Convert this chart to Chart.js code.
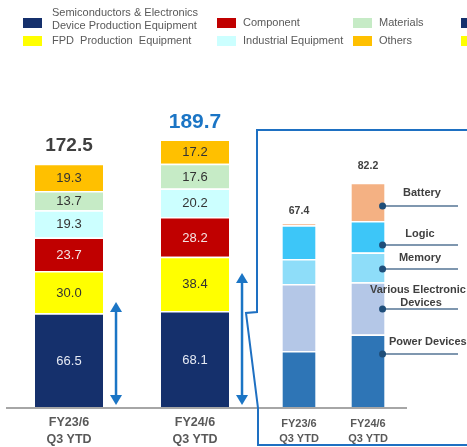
<!DOCTYPE html>
<html><head><meta charset="utf-8">
<script src="https://cdn.jsdelivr.net/npm/chart.js@4"></script>
<style>
html,body{margin:0;padding:0;background:#fff;}
#wrap{position:relative;width:467px;height:447px;overflow:hidden;}
canvas{position:absolute;left:0;top:0;}
</style></head><body>
<div id="wrap"><canvas id="c1" width="467" height="447"></canvas><canvas id="c2" width="467" height="447"></canvas></div>
<script>
// ---- data: left chart (sales by segment) ----
const categories = [["FY23/6","Q3 YTD"],["FY24/6","Q3 YTD"]];
const segmentNames = ["Semiconductors & Electronics Device Production Equipment","FPD Production Equipment","Component","Industrial Equipment","Materials","Others"];
const semiconductors = [66.5, 68.1];
const fpd = [30.0, 38.4];
const component = [23.7, 28.2];
const industrial = [19.3, 20.2];
const materials = [13.7, 17.6];
const others = [19.3, 17.2];
const totals = [172.5, 189.7];
const arrowTops = [74.5, 95.0];

// ---- data: right chart (semiconductor breakdown) ----
const deviceNames = ["Power Devices","Various Electronic Devices","Memory","Logic","Battery"];
const powerDevices = [20.5, 26.6];
const variousDevices = [24.6, 19.1];
const memory = [9.2, 10.9];
const logic = [12.3, 11.6];
const battery = [0.8, 14.0];
const deviceTotals = [67.4, 82.2];
const calloutLevels = [19.4, 35.9, 50.6, 59.4, 73.7]; // y-values of callout leaders (Power..Battery)

// ---- legend text ----
const legendText = [["Semiconductors & Electronics","Device Production Equipment"],["FPD  Production  Equipment"],["Component"],["Industrial Equipment"],["Materials"],["Others"]];

const FONT = '"Liberation Sans", Arial, Helvetica, sans-serif';
const segColors = ['#15306C','#FFFF00','#C00000','#CCFFFF','#C6EBC6','#FFC000'];
const segTextColors = ['#E6EAF4','#333333','#F4E4E4','#333333','#333333','#333333'];
const devColors = ['#2E75B6','#B4C7E7','#8EDDF9','#3DC6F8','#F4B183'];

function drawArrow(ctx, x, yTop, yBot) {
  const head = 10, hw = 6;
  ctx.save();
  ctx.strokeStyle = '#1B75C5'; ctx.fillStyle = '#1B75C5'; ctx.lineWidth = 2.5;
  ctx.beginPath(); ctx.moveTo(x, yTop + head - 1); ctx.lineTo(x, yBot - head + 1); ctx.stroke();
  ctx.beginPath(); ctx.moveTo(x, yTop); ctx.lineTo(x - hw, yTop + head); ctx.lineTo(x + hw, yTop + head); ctx.closePath(); ctx.fill();
  ctx.beginPath(); ctx.moveTo(x, yBot); ctx.lineTo(x - hw, yBot - head); ctx.lineTo(x + hw, yBot - head); ctx.closePath(); ctx.fill();
  ctx.restore();
}

const deco1 = {
  id: 'deco1',
  beforeDatasetsDraw(chart) {
    const ctx = chart.ctx, ys = chart.scales.y;
    const y0 = ys.getPixelForValue(0) + 1;
    ctx.save();
    ctx.strokeStyle = '#A6A6A6'; ctx.lineWidth = 2;
    ctx.beginPath(); ctx.moveTo(6, y0); ctx.lineTo(407, y0); ctx.stroke();
    ctx.restore();
  },
  afterDatasetsDraw(chart) {
    const ctx = chart.ctx, ys = chart.scales.y;
    ctx.save();
    ctx.textAlign = 'center'; ctx.textBaseline = 'middle';
    chart.data.datasets.forEach((ds, di) => {
      const meta = chart.getDatasetMeta(di);
      meta.data.forEach((bar, i) => {
        const p = bar.getProps(['x','y','base'], true);
        ctx.fillStyle = segTextColors[di];
        ctx.font = '13px ' + FONT;
        ctx.fillText(ds.data[i].toFixed(1), p.x, (p.y + p.base) / 2 + 1);
      });
    });
    // totals
    const lastMeta = chart.getDatasetMeta(chart.data.datasets.length - 1);
    lastMeta.data.forEach((bar, i) => {
      const p = bar.getProps(['x','y','base','width'], true);
      if (i === 0) { ctx.font = 'bold 19px ' + FONT; ctx.fillStyle = '#404040'; ctx.fillText(totals[i].toFixed(1), p.x, p.y - 18); }
      else { ctx.font = 'bold 21px ' + FONT; ctx.fillStyle = '#1B75C5'; ctx.fillText(totals[i].toFixed(1), p.x, p.y - 17); }
      // arrows
      drawArrow(ctx, p.x + p.width / 2 + 13, ys.getPixelForValue(arrowTops[i]), ys.getPixelForValue(1.4));
    });
    ctx.restore();
  },
  afterDraw(chart) {
    const ctx = chart.ctx;
    ctx.save();
    // zoom frame
    ctx.strokeStyle = '#1E70C2'; ctx.lineWidth = 2;
    ctx.beginPath();
    ctx.moveTo(470, 130); ctx.lineTo(257, 130); ctx.lineTo(257, 312); ctx.lineTo(246, 313);
    ctx.lineTo(258, 408); ctx.lineTo(258, 445); ctx.lineTo(470, 445);
    ctx.stroke();
    // legend
    const cols = [
      {bx: 23, tx: 52, items: [0, 1], text: true},
      {bx: 217, tx: 243, items: [2, 3], text: true},
      {bx: 353, tx: 379, items: [4, 5], text: true},
      {bx: 461, tx: 0, items: [0, 1], text: false}
    ];
    const rowTop = [18, 36];
    ctx.font = '11px ' + FONT; ctx.textBaseline = 'middle'; ctx.textAlign = 'left';
    cols.forEach(c => {
      c.items.forEach((it, r) => {
        ctx.fillStyle = segColors[it];
        ctx.fillRect(c.bx, rowTop[r], 19, 10);
        if (!c.text) return;
        ctx.fillStyle = '#595959';
        const lines = legendText[it];
        if (lines.length === 2) { ctx.fillText(lines[0], c.tx, 13); ctx.fillText(lines[1], c.tx, 26); }
        else ctx.fillText(lines[0], c.tx, rowTop[r] + 5);
      });
    });
    ctx.restore();
  }
};

const deco2 = {
  id: 'deco2',
  afterDatasetsDraw(chart) {
    const ctx = chart.ctx, ys = chart.scales.y;
    ctx.save();
    ctx.textAlign = 'center'; ctx.textBaseline = 'middle';
    const lastMeta = chart.getDatasetMeta(chart.data.datasets.length - 1);
    const offs = [12, 17];
    lastMeta.data.forEach((bar, i) => {
      const p = bar.getProps(['x','y'], true);
      ctx.font = 'bold 10.5px ' + FONT; ctx.fillStyle = '#404040';
      ctx.fillText(deviceTotals[i].toFixed(1), p.x, p.y - offs[i]);
    });
    // callouts on second bar
    const b = chart.getDatasetMeta(0).data[1].getProps(['x','width'], true);
    const dx = b.x + b.width / 2 - 2;
    const textSpec = [
      {lines: ['Power Devices'], align: 'left', x: 389, dy: [-12]},
      {lines: ['Various Electronic', 'Devices'], align: ['left','center'], x: [370, 421], dy: [-19, -6]},
      {lines: ['Memory'], align: 'center', x: 420, dy: [-11]},
      {lines: ['Logic'], align: 'center', x: 420, dy: [-11]},
      {lines: ['Battery'], align: 'center', x: 422, dy: [-13]}
    ];
    calloutLevels.forEach((v, k) => {
      const y = ys.getPixelForValue(v);
      ctx.strokeStyle = '#557594'; ctx.lineWidth = 1.5;
      ctx.beginPath(); ctx.moveTo(dx, y); ctx.lineTo(458, y); ctx.stroke();
      ctx.fillStyle = '#1F4E79';
      ctx.beginPath(); ctx.arc(dx, y, 3.5, 0, Math.PI * 2); ctx.fill();
      const t = textSpec[k];
      ctx.font = 'bold 11px ' + FONT; ctx.fillStyle = '#404040';
      t.lines.forEach((ln, j) => {
        ctx.textAlign = Array.isArray(t.align) ? t.align[j] : t.align;
        const tx = Array.isArray(t.x) ? t.x[j] : t.x;
        ctx.fillText(ln, tx, y + t.dy[j]);
      });
    });
    ctx.restore();
  }
};

const barCommon = { borderColor: '#FFFFFF', borderWidth: {top: 1.5, left: 0, right: 0, bottom: 0}, borderSkipped: 'start' };

new Chart(document.getElementById('c1'), {
  type: 'bar',
  data: {
    labels: categories,
    datasets: [semiconductors, fpd, component, industrial, materials, others].map((d, i) => Object.assign({
      label: segmentNames[i], data: d, backgroundColor: segColors[i]
    }, barCommon))
  },
  options: {
    responsive: false, animation: false,
    layout: {padding: {left: 6, right: 209, top: 125, bottom: 0}},
    plugins: {legend: {display: false}, tooltip: {enabled: false}},
    datasets: {bar: {categoryPercentage: 0.54, barPercentage: 1}},
    scales: {
      x: {stacked: true, grid: {display: false, drawTicks: false}, border: {display: false},
          ticks: {font: {family: FONT, size: 12.5, weight: 'bold', lineHeight: 1.35}, color: '#595959', padding: 7},
          afterFit(s) { s.height = 40; }},
      y: {stacked: true, display: false, min: 0, max: 200}
    }
  },
  plugins: [deco1]
});

new Chart(document.getElementById('c2'), {
  type: 'bar',
  data: {
    labels: categories,
    datasets: [powerDevices, variousDevices, memory, logic, battery].map((d, i) => Object.assign({
      label: deviceNames[i], data: d, backgroundColor: devColors[i]
    }, barCommon))
  },
  options: {
    responsive: false, animation: false,
    layout: {padding: {left: 264.5, right: 64.5, top: 161.5, bottom: 0}},
    plugins: {legend: {display: false}, tooltip: {enabled: false}},
    datasets: {bar: {categoryPercentage: 0.48, barPercentage: 1}},
    scales: {
      x: {stacked: true, grid: {display: false, drawTicks: false}, border: {display: false},
          ticks: {font: {family: FONT, size: 11, weight: 'bold', lineHeight: 1.4}, color: '#595959', padding: 9},
          afterFit(s) { s.height = 40; }},
      y: {stacked: true, display: false, min: 0, max: 90}
    }
  },
  plugins: [deco2]
});
</script>
</body></html>
